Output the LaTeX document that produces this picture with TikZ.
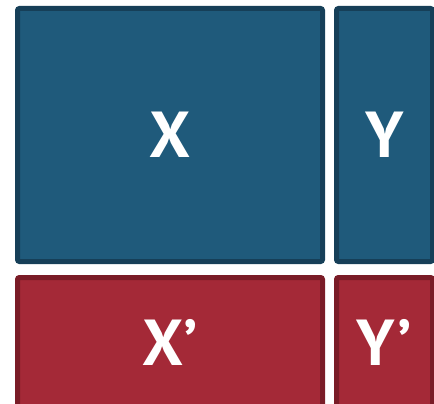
\documentclass[tikz,border=0pt]{standalone}
\usepackage{fontspec}
\setmainfont{PT Sans}
\usetikzlibrary{positioning}
\definecolor{bluefill}{HTML}{1F5A7B}
\definecolor{blueline}{HTML}{163F58}
\definecolor{redfill}{HTML}{A42937}
\definecolor{redline}{HTML}{7A1C27}

\begin{document}
\begin{tikzpicture}[
    x=1pt, y=-1pt,
    every node/.style={rectangle, draw, line width=5pt, rounded corners=2pt,
      text=white, font=\bfseries\fontsize{65}{65}\selectfont, inner sep=0pt},
    upper/.style={fill=bluefill, draw=blueline},
    lower/.style={fill=redfill, draw=redline},
  ]
  \useasboundingbox (0,0) rectangle (434,404);
  \clip (0,0) rectangle (434,404);
  % top row
  \node[upper, minimum width=305pt, minimum height=253pt] (x)  at (170,135)     {X};
  \node[upper, minimum width=96pt,  minimum height=253pt] (y)  at (384.5,135)   {Y};
  % bottom row, cut off by the page edge
  \node[lower, minimum width=305pt, minimum height=130pt] (xp) at (170,342.5)   {X’};
  \node[lower, minimum width=96pt,  minimum height=130pt] (yp) at (384.5,342.5) {Y’};
\end{tikzpicture}
\end{document}
